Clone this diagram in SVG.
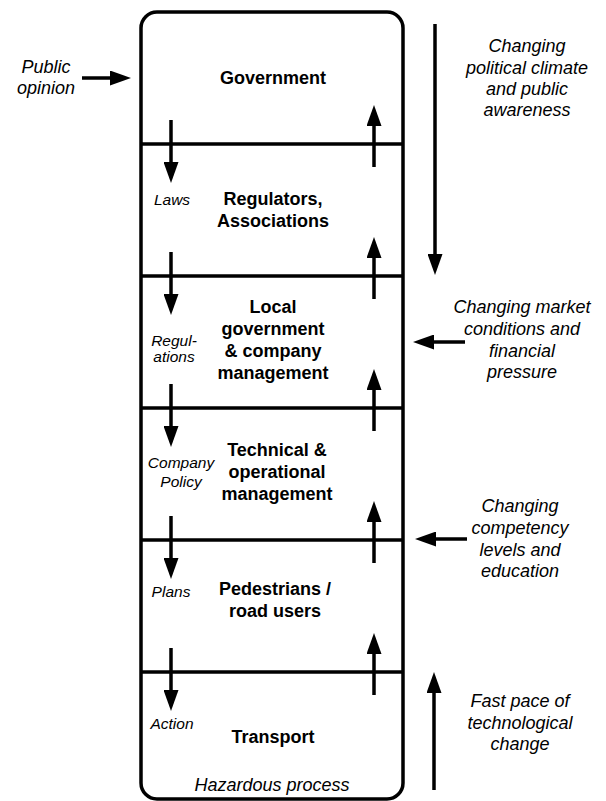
<svg xmlns="http://www.w3.org/2000/svg" width="606" height="801" viewBox="0 0 606 801">
  <style>
    .b { font-family: "Liberation Sans", Arial, sans-serif; font-weight: bold; font-size: 18px; text-anchor: middle; fill: #000; }
    .i { font-family: "Liberation Sans", Arial, sans-serif; font-style: italic; font-size: 18px; text-anchor: middle; fill: #000; }
    .s { font-family: "Liberation Sans", Arial, sans-serif; font-style: italic; font-size: 15.5px; text-anchor: middle; fill: #000; }
    .ln { stroke: #000; stroke-width: 3.5; fill: none; }
    .ar { stroke: #000; stroke-width: 3.5; fill: none; marker-end: url(#ah); }
  </style>
  <defs>
    <marker id="ah" viewBox="0 0 21 15" refX="11" refY="7.5" markerWidth="21" markerHeight="15" markerUnits="userSpaceOnUse" orient="auto">
      <path d="M0,0 L21,7.5 L0,15 Z" fill="#000"/>
    </marker>
  </defs>
  <rect width="606" height="801" fill="#fff"/>

  <g id="frame">
    <rect class="ln" x="141" y="12" width="262" height="787" rx="16" ry="16"/>
    <line class="ln" x1="141" y1="144" x2="403" y2="144"/>
    <line class="ln" x1="141" y1="276" x2="403" y2="276"/>
    <line class="ln" x1="141" y1="408" x2="403" y2="408"/>
    <line class="ln" x1="141" y1="540" x2="403" y2="540"/>
    <line class="ln" x1="141" y1="672" x2="403" y2="672"/>
  </g>

  <g id="government">
    <text class="b" x="273" y="84">Government</text>
  </g>
  <g id="regulators">
    <text class="b" x="273" y="205">Regulators,</text>
    <text class="b" x="273" y="227">Associations</text>
  </g>
  <g id="local-government">
    <text class="b" x="273" y="313">Local</text>
    <text class="b" x="273" y="335">government</text>
    <text class="b" x="273" y="357">&amp; company</text>
    <text class="b" x="273" y="379">management</text>
  </g>
  <g id="technical">
    <text class="b" x="277" y="456">Technical &amp;</text>
    <text class="b" x="277" y="478">operational</text>
    <text class="b" x="277" y="500">management</text>
  </g>
  <g id="pedestrians">
    <text class="b" x="275" y="595">Pedestrians /</text>
    <text class="b" x="275" y="617">road users</text>
  </g>
  <g id="transport">
    <text class="b" x="273" y="743">Transport</text>
    <text class="i" x="272" y="791">Hazardous process</text>
  </g>

  <g id="public-opinion">
    <text class="i" x="46" y="73">Public</text>
    <text class="i" x="46" y="94">opinion</text>
  </g>
  <g id="political-climate">
    <text class="i" x="527" y="52">Changing</text>
    <text class="i" x="527" y="74">political climate</text>
    <text class="i" x="527" y="95">and public</text>
    <text class="i" x="527" y="116">awareness</text>
  </g>
  <g id="market-conditions">
    <text class="i" x="522" y="313">Changing market</text>
    <text class="i" x="522" y="335">conditions and</text>
    <text class="i" x="522" y="357">financial</text>
    <text class="i" x="522" y="378">pressure</text>
  </g>
  <g id="competency">
    <text class="i" x="520" y="512">Changing</text>
    <text class="i" x="520" y="534">competency</text>
    <text class="i" x="520" y="556">levels and</text>
    <text class="i" x="520" y="577">education</text>
  </g>
  <g id="technological-change">
    <text class="i" x="520" y="707">Fast pace of</text>
    <text class="i" x="520" y="729">technological</text>
    <text class="i" x="520" y="750">change</text>
  </g>

  <g id="connectors">
    <line class="ar" x1="82" y1="78" x2="121" y2="78"/>
    <line class="ar" x1="435" y1="24" x2="435" y2="265"/>
    <line class="ar" x1="465" y1="342" x2="423" y2="342"/>
    <line class="ar" x1="467" y1="539" x2="425" y2="539"/>
    <line class="ar" x1="434" y1="790" x2="434" y2="682"/>

    <line class="ar" x1="171" y1="120" x2="171" y2="173"/>
    <line class="ar" x1="171" y1="252" x2="171" y2="305"/>
    <line class="ar" x1="171" y1="384" x2="171" y2="437"/>
    <line class="ar" x1="171" y1="516" x2="171" y2="569"/>
    <line class="ar" x1="171" y1="648" x2="171" y2="701"/>

    <line class="ar" x1="374" y1="167" x2="374" y2="115"/>
    <line class="ar" x1="374" y1="299" x2="374" y2="247"/>
    <line class="ar" x1="374" y1="431" x2="374" y2="379"/>
    <line class="ar" x1="374" y1="563" x2="374" y2="511"/>
    <line class="ar" x1="374" y1="695" x2="374" y2="643"/>
  </g>
  <g id="edge-labels">
    <text class="s" x="172" y="205">Laws</text>
    <text class="s" x="174" y="346">Regul-</text>
    <text class="s" x="174" y="362">ations</text>
    <text class="s" x="181" y="468">Company</text>
    <text class="s" x="181" y="487">Policy</text>
    <text class="s" x="171" y="597">Plans</text>
    <text class="s" x="172" y="729">Action</text>
  </g>
</svg>
